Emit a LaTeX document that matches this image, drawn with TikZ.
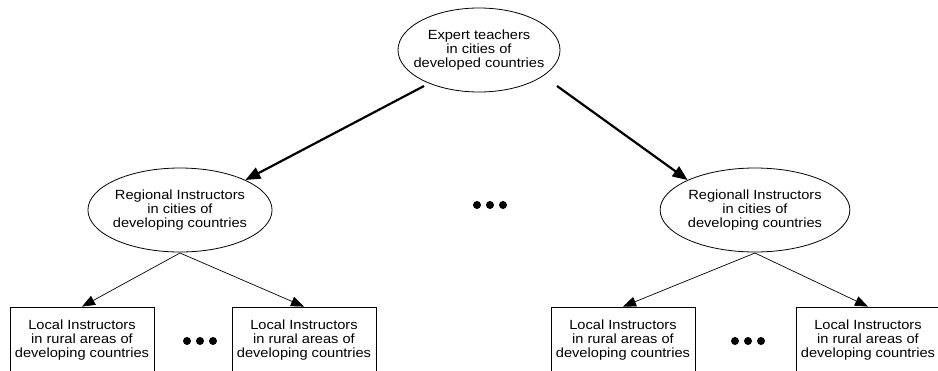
\documentclass[tikz,border=0pt]{standalone}
\usepackage{fontspec}
\setmainfont[FakeStretch=1.1]{Liberation Sans}
\usetikzlibrary{shapes.geometric,arrows.meta}
\begin{document}
\begin{tikzpicture}[x=1pt,y=-1pt,
  font=\fontsize{13.3}{14}\selectfont,
  ell/.style={draw,ellipse,line width=0.8pt,align=center,inner ysep=0pt},
  box/.style={draw,rectangle,line width=0.8pt,align=center,minimum width=144pt,minimum height=66pt,inner sep=0pt},
  bigarr/.style={line width=2.2pt,-{Triangle[length=15pt,width=12pt]}},
  smallarr/.style={line width=0.7pt,-{Triangle[length=13pt,width=10pt]}},
  dot/.style={circle,fill=black,inner sep=0pt,minimum size=8pt}]
\useasboundingbox (0,0) rectangle (938,370);
\node[ell,inner xsep=-8.2pt,minimum height=84pt] (top) at (479,50) {Expert teachers\\in cities of\\developed countries};
\node[ell,inner xsep=-2pt,minimum height=84pt] (rl) at (180,210) {Regional Instructors\\in cities of\\developing countries};
\node[ell,inner xsep=0pt,minimum height=84pt] (rr) at (755,210) {Regionall Instructors\\in cities of\\developing countries};
\node[box] (b1) at (82,340) {Local Instructors\\in rural areas of\\developing countries};
\node[box] (b2) at (304,340) {Local Instructors\\in rural areas of\\developing countries};
\node[box] (b3) at (623,340) {Local Instructors\\in rural areas of\\developing countries};
\node[box] (b4) at (868,340) {Local Instructors\\in rural areas of\\developing countries};
\node[dot] (d1) at (477,205) {};
\node[dot] (d2) at (490,205) {};
\node[dot] (d3) at (503,205) {};
\node[dot] (e1) at (187,341) {};
\node[dot] (e2) at (200,341) {};
\node[dot] (e3) at (213,341) {};
\node[dot] (f1) at (735,341) {};
\node[dot] (f2) at (748,341) {};
\node[dot] (f3) at (761,341) {};
\coordinate (tl) at (424,86);
\coordinate (tr) at (557,86);
\coordinate (lb) at (180,253);
\coordinate (rb) at (755,253);
\draw[bigarr] (tl) -- (rl.north east);
\draw[bigarr] (tr) -- (rr.north west);
\draw[smallarr] (lb) -- (b1.north);
\draw[smallarr] (lb) -- (b2.north);
\draw[smallarr] (rb) -- (b3.north);
\draw[smallarr] (rb) -- (b4.north);
\end{tikzpicture}
\end{document}
